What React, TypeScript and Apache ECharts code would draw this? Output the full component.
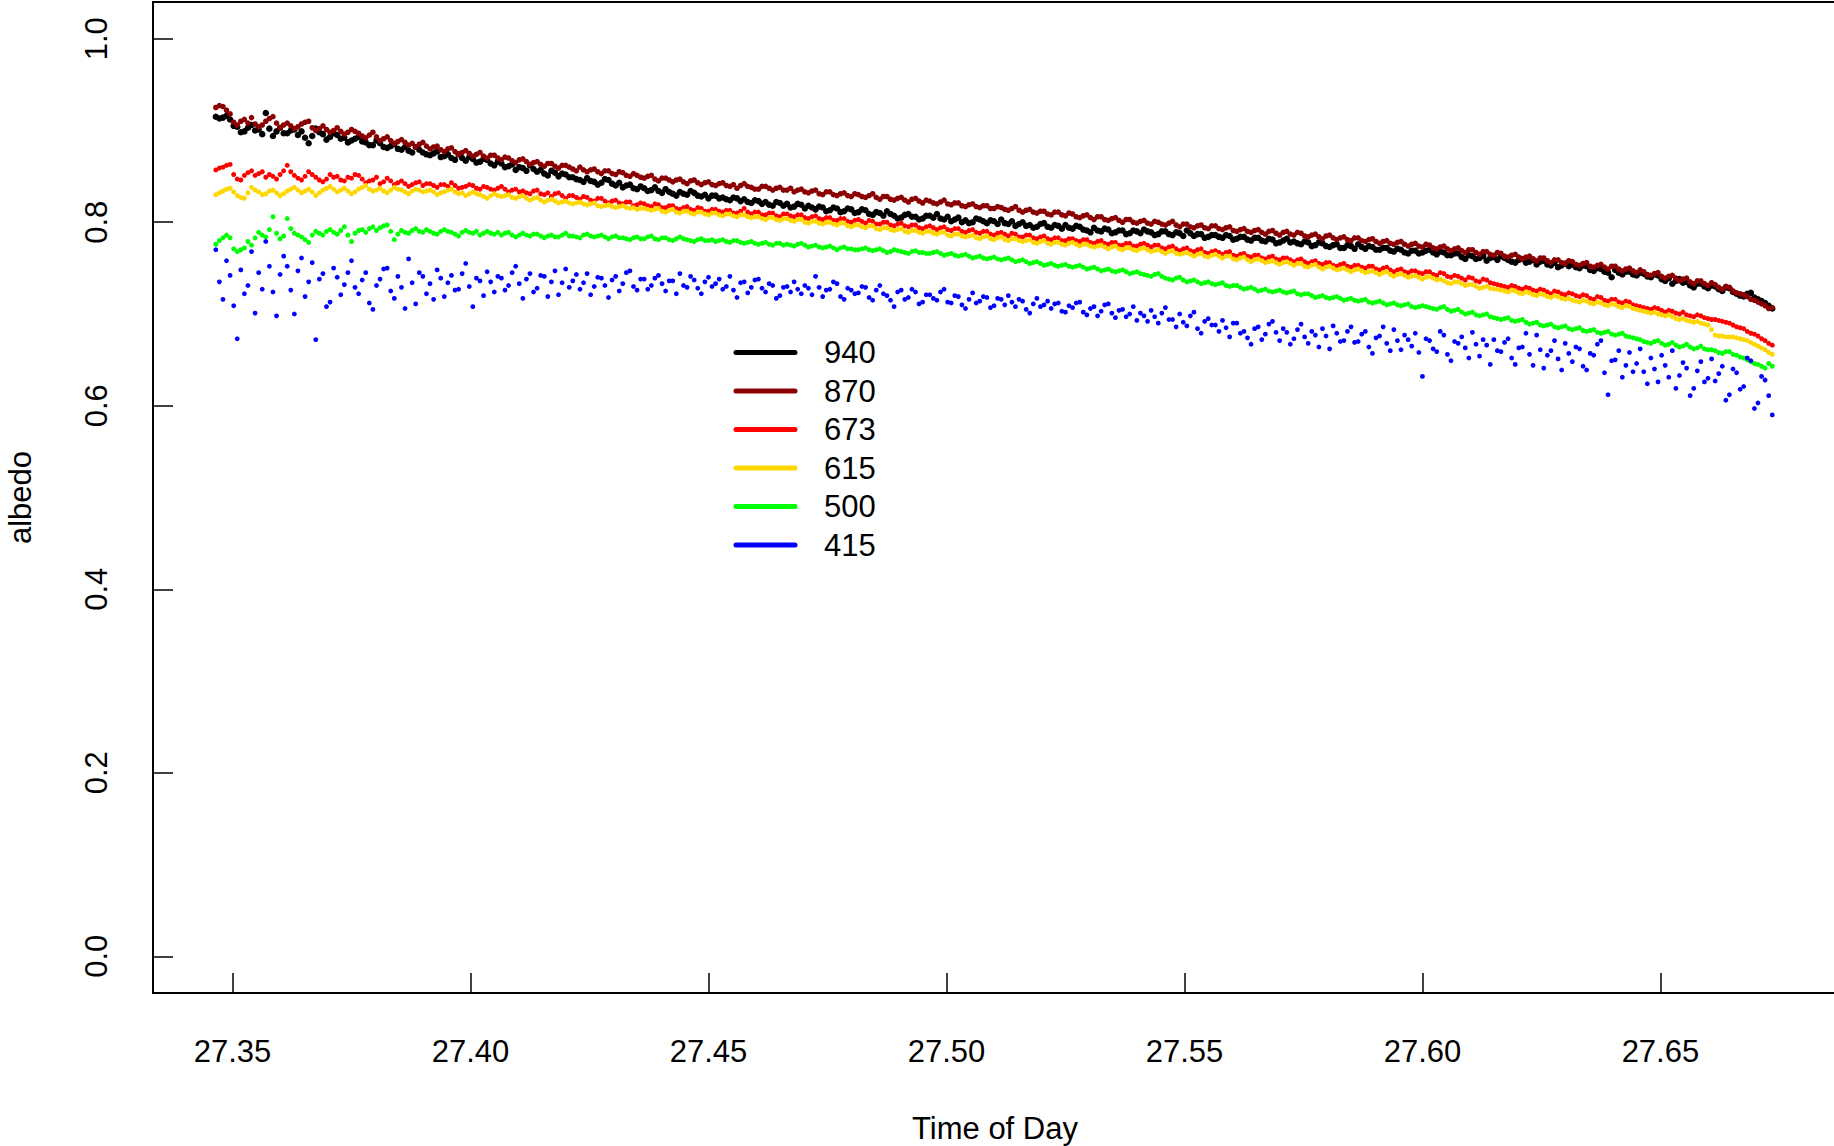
import React, { useEffect, useRef } from "react";
import * as echarts from "echarts";

// Radiometer samples: one reading every sampleStep days, starting at startTime
const startTime = 27.3465;
const sampleStep = 0.00075;

const bandNames = ["940", "870", "673", "615", "500", "415"];
const bandColors = ["#000000", "#8B0000", "#FF0000", "#FFD700", "#00FF00", "#0000FF"];
const bandDotSizes = [6.5, 5.6, 5, 5, 5, 4.8];

const xTicks = [27.35, 27.4, 27.45, 27.5, 27.55, 27.6, 27.65];
const yTicks = [0, 0.2, 0.4, 0.6, 0.8, 1.0];

// Albedo per band, in thousandths
const albedo940 = [
  915,913,914,916,912,905,904,898,899,903,906,900,901,896,919,902,894,899,903,897,
  897,900,901,895,899,892,886,894,902,898,896,890,893,897,895,891,892,887,889,891,
  893,888,887,884,884,889,886,882,881,883,885,880,879,882,878,876,882,879,876,874,
  873,875,877,871,872,874,870,868,874,870,867,871,869,865,866,869,868,864,862,866,
  864,860,861,863,857,860,859,856,862,858,855,857,853,851,856,854,850,853,852,849,
  849,847,846,844,848,845,844,841,843,847,846,842,840,843,838,840,841,837,836,839,
  837,834,835,838,834,832,836,833,831,829,833,831,830,834,832,829,828,830,826,829,
  829,826,827,825,824,827,826,823,825,822,821,824,823,820,822,819,818,822,821,818,
  820,816,817,820,819,815,818,816,814,817,816,812,813,816,815,811,812,815,814,810,
  811,814,813,809,808,811,810,807,812,809,807,804,805,808,809,806,806,803,804,807,
  807,805,809,804,803,806,801,803,805,800,802,799,800,804,803,801,799,802,801,798,
  803,799,798,801,796,798,800,796,797,794,795,798,799,795,794,797,796,793,797,794,
  793,796,795,792,791,789,794,791,790,793,792,788,789,791,791,787,788,791,790,788,
  792,790,789,786,787,790,790,787,786,789,788,785,791,788,785,787,787,783,784,786,
  786,784,783,786,785,781,782,784,784,781,780,783,783,780,779,782,781,777,778,780,
  782,778,779,777,776,779,778,774,775,778,777,774,773,775,776,772,772,775,774,771,
  776,773,771,774,773,770,770,772,772,769,768,771,770,767,766,769,769,766,767,769,
  770,767,765,768,767,764,764,766,766,762,760,764,763,760,761,763,758,761,762,759,
  763,761,759,757,756,759,760,756,757,759,754,757,758,754,753,756,751,753,755,752,
  754,751,750,753,752,748,747,750,749,746,745,740,748,745,743,746,746,743,742,745,
  744,741,740,743,742,738,736,739,733,736,738,734,735,731,729,733,733,730,728,731,
  730,727,725,729,728,724,722,720,719,722,723,718,716,714,712,709,706,
];

const albedo870 = [
  925,927,926,922,918,909,906,910,912,908,914,907,904,906,910,913,915,908,903,906,
  908,905,902,904,907,909,910,903,900,902,905,901,898,900,903,899,896,898,901,899,
  897,894,892,895,898,893,889,891,893,889,886,888,890,887,884,886,882,885,887,883,
  880,882,883,879,877,880,881,877,874,876,878,875,872,874,876,872,870,873,873,870,
  868,871,870,867,865,868,869,866,863,865,866,863,861,864,864,861,859,862,862,860,
  858,856,860,857,855,857,858,855,853,856,856,853,852,855,854,851,850,853,851,849,
  848,850,851,847,845,848,848,846,844,846,847,844,842,845,846,843,841,843,844,841,
  840,842,843,840,839,841,837,840,842,839,838,836,836,839,839,837,835,837,838,835,
  835,837,833,835,836,833,832,834,835,831,830,833,833,830,829,831,832,829,828,831,
  830,828,827,829,831,827,825,828,828,825,824,826,827,824,822,825,826,823,821,824,
  823,821,820,822,824,820,819,821,821,818,817,819,820,817,816,818,818,815,815,817,
  816,814,813,815,817,813,811,813,814,811,810,812,812,809,808,811,811,808,807,810,
  809,806,805,807,808,805,803,806,806,803,802,804,805,802,800,803,803,800,799,801,
  802,799,798,801,800,798,797,799,801,797,795,798,798,795,794,796,797,794,793,796,
  796,793,792,794,795,791,790,792,793,790,789,791,792,789,787,790,791,788,786,789,
  790,787,786,789,788,785,784,786,787,784,782,785,786,783,781,783,784,781,780,783,
  783,780,779,781,782,779,777,779,780,777,776,778,779,776,774,776,777,774,773,776,
  775,772,771,773,774,771,769,771,772,769,767,770,770,767,765,768,768,765,764,767,
  766,763,762,764,765,762,760,762,763,760,758,761,761,758,756,759,759,756,755,758,
  757,754,753,755,756,752,751,753,754,751,749,752,752,749,747,749,750,747,745,748,
  746,743,742,744,745,741,739,741,742,739,736,738,739,735,733,736,736,733,731,734,
  732,729,727,730,729,725,723,722,721,719,716,715,713,711,709,706,707,
];

const albedo673 = [
  857,859,860,862,863,852,847,846,851,854,856,851,853,855,849,852,850,847,852,856,
  862,855,851,848,846,850,855,852,849,846,844,847,852,849,850,846,845,849,848,852,
  851,847,843,845,846,849,842,844,848,845,841,843,845,842,839,841,843,844,840,842,
  842,840,838,841,841,839,843,840,837,838,839,841,840,837,836,839,838,836,835,837,
  839,836,833,835,836,833,834,832,831,834,835,831,830,832,828,831,832,829,826,829,
  829,827,825,828,827,824,823,826,826,823,821,823,824,821,820,822,822,818,819,821,
  820,818,817,820,819,816,816,818,818,815,814,816,817,814,813,816,815,812,812,814,
  814,812,811,813,813,810,810,812,815,811,809,811,811,808,808,810,810,807,806,809,
  809,807,806,808,808,805,804,806,807,804,803,805,805,802,802,804,804,801,800,802,
  803,801,799,802,801,798,798,800,800,797,796,798,799,796,795,797,797,794,793,795,
  796,794,792,794,795,792,791,793,793,790,789,791,792,789,788,790,790,787,786,788,
  789,787,785,788,787,784,784,786,786,783,782,784,785,782,781,783,783,780,780,782,
  782,780,779,781,781,778,777,779,780,777,776,778,778,775,775,777,777,774,774,776,
  777,775,773,775,775,772,771,773,774,771,769,771,772,769,768,770,771,767,766,768,
  769,767,765,767,768,764,763,765,766,763,762,764,764,761,760,762,763,760,759,761,
  761,759,757,759,760,757,755,757,758,755,754,756,756,753,752,754,755,752,751,753,
  753,751,750,752,752,749,748,750,751,748,746,748,749,746,745,747,747,745,744,746,
  746,743,742,745,744,741,740,742,741,739,737,740,739,736,735,738,737,734,733,732,
  731,730,729,731,730,728,727,729,728,726,725,727,726,724,722,725,724,722,721,723,
  722,720,719,721,720,717,716,719,718,715,714,716,716,713,712,714,713,710,709,708,
  707,706,705,707,706,704,702,704,703,701,700,702,699,698,697,699,698,696,695,694,
  694,693,692,691,690,688,686,685,684,681,679,678,676,673,671,668,666,
];

const albedo615 = [
  830,832,834,836,837,833,829,827,826,832,838,835,833,830,831,834,835,832,829,831,
  834,836,838,835,832,834,836,833,829,832,835,837,839,836,833,835,837,834,831,833,
  836,838,840,836,834,835,837,834,832,835,838,836,835,833,831,834,836,835,833,834,
  835,833,830,832,833,835,836,833,831,832,829,831,833,831,830,828,826,829,831,829,
  828,829,830,827,826,828,829,826,824,826,827,824,822,824,825,823,821,822,823,821,
  820,821,822,820,819,820,821,818,817,818,819,817,816,817,818,816,815,816,814,815,
  815,814,813,814,815,812,811,813,814,811,810,812,812,810,809,811,811,809,808,810,
  810,808,807,809,809,807,806,808,808,806,805,806,806,804,803,805,805,803,802,804,
  804,802,801,803,803,800,799,801,801,799,798,800,800,798,797,799,799,796,795,797,
  797,795,794,796,796,793,792,794,794,792,791,792,793,790,789,791,791,789,788,790,
  790,788,787,789,789,786,785,787,787,785,784,785,786,783,782,784,785,782,781,783,
  784,781,780,782,782,780,779,780,781,778,777,779,780,777,776,778,778,776,775,777,
  778,776,774,776,776,774,773,774,775,773,771,773,774,771,770,772,772,770,769,771,
  772,770,768,769,770,768,766,768,769,766,765,766,767,765,763,765,766,763,762,764,
  765,763,761,763,763,760,759,761,762,759,757,759,760,758,756,757,758,756,754,756,
  757,755,753,755,755,752,751,753,754,751,749,751,752,750,748,749,750,748,746,748,
  749,747,745,746,747,745,743,745,746,743,741,743,744,742,740,741,742,740,738,740,
  741,739,737,738,736,734,733,735,735,733,731,732,732,730,728,729,730,728,727,727,
  726,725,724,726,725,723,722,724,723,721,720,722,721,719,718,720,719,717,716,717,
  715,714,713,715,714,712,711,713,712,710,709,711,710,708,707,709,708,706,705,704,
  703,702,701,702,700,699,698,699,697,695,694,695,693,692,691,692,690,689,688,683,
  677,676,676,675,675,675,674,673,672,671,669,667,665,663,661,658,656,
];

const albedo500 = [
  776,780,783,786,783,771,768,770,772,779,775,783,789,786,784,792,806,788,782,785,
  804,793,788,786,784,781,778,786,790,788,786,790,792,789,787,791,795,786,779,788,
  791,792,789,793,795,791,794,796,797,790,781,787,791,789,788,791,793,790,789,792,
  790,788,787,790,792,790,789,787,785,789,791,789,788,790,786,788,790,788,787,789,
  786,788,789,786,784,786,788,786,785,787,787,785,783,785,786,784,784,786,788,785,
  785,784,783,786,787,785,784,785,786,784,782,784,785,783,783,782,781,783,784,782,
  782,784,785,782,781,783,783,781,780,782,784,782,781,780,779,781,782,780,780,781,
  779,780,781,779,778,780,780,778,777,778,779,777,776,777,778,776,775,777,777,775,
  776,775,774,776,777,775,773,774,775,773,772,773,774,772,770,772,773,771,771,770,
  770,771,772,770,769,770,771,769,767,768,770,769,768,767,766,768,769,767,767,766,
  766,767,768,766,764,765,766,764,763,764,765,763,761,762,763,761,760,761,762,760,
  759,760,761,759,757,758,759,757,755,756,757,755,753,754,755,753,752,753,754,752,
  751,752,753,751,749,750,751,749,747,748,749,747,746,747,748,746,744,745,746,744,
  743,742,741,743,744,741,739,738,737,739,740,737,735,736,737,735,733,734,735,733,
  732,733,734,731,730,731,731,729,727,728,729,727,725,726,727,725,724,725,726,724,
  723,724,725,722,721,722,722,720,718,719,720,718,717,718,719,717,715,716,717,715,
  714,715,716,713,712,713,714,712,710,711,712,710,709,710,711,708,707,708,709,708,
  707,706,705,707,708,705,703,704,705,702,700,701,702,699,698,699,700,697,696,695,
  694,695,696,693,692,693,694,691,689,690,691,688,687,688,689,686,685,686,687,684,
  683,684,685,682,681,682,683,680,679,680,681,678,677,678,679,676,675,674,673,672,
  670,669,668,670,671,668,666,667,669,666,664,665,667,664,662,663,665,662,661,661,
  660,658,657,659,659,656,655,653,652,650,648,646,645,643,641,646,643,
];

const albedo415 = [
  770,735,716,758,742,709,673,748,722,731,768,701,745,727,779,752,724,698,743,763,
  752,726,700,747,761,719,735,756,672,738,744,708,713,750,740,721,732,745,758,729,
  722,737,745,712,705,731,738,749,750,725,717,741,729,706,760,734,711,745,741,722,
  733,716,748,739,719,734,742,726,727,744,755,730,708,739,736,720,746,735,724,741,
  739,726,731,745,752,733,717,738,744,724,728,742,741,719,735,747,721,734,749,729,
  736,743,727,734,744,721,730,740,739,731,718,737,741,725,733,745,747,730,726,738,
  738,727,731,739,742,733,725,736,736,722,744,731,729,741,737,728,722,735,740,730,
  733,738,727,730,741,726,718,734,735,723,729,737,738,728,724,733,731,717,720,729,
  730,724,735,727,722,731,728,721,741,729,719,726,727,735,733,719,716,728,726,722,
  723,730,729,718,715,726,731,722,720,715,708,724,726,716,718,727,724,711,713,721,
  721,717,715,724,727,713,712,720,719,710,706,716,723,712,714,719,718,707,709,717,
  716,710,720,713,708,716,714,705,701,711,717,708,710,714,706,711,712,703,702,709,
  707,712,713,702,699,706,708,698,703,710,711,701,696,704,705,697,700,708,693,701,
  698,692,704,697,690,701,707,694,694,686,700,691,687,698,702,684,679,692,695,688,
  688,681,693,685,675,690,690,679,681,674,667,684,686,672,678,689,692,680,671,684,
  680,667,673,683,689,675,668,681,677,664,684,676,662,687,679,670,671,681,686,669,
  670,678,681,664,657,674,676,686,668,660,683,671,661,677,672,665,679,658,632,673,
  671,662,659,681,677,656,649,670,668,675,663,652,680,667,654,672,666,645,672,660,
  659,669,673,652,645,663,664,679,656,644,677,661,641,655,660,671,651,639,668,657,
  648,664,662,643,639,657,655,667,671,636,612,649,650,660,631,644,658,637,646,662,
  637,624,652,640,626,655,644,631,660,619,633,647,641,611,619,638,648,626,630,651,
  627,635,643,606,612,640,636,618,621,652,649,597,603,632,628,611,590,
];

const bandValues = [albedo940, albedo870, albedo673, albedo615, albedo500, albedo415];

const FONT = "'Liberation Sans', Arial, Helvetica, sans-serif";

export default function App() {
  const ref = useRef<HTMLDivElement>(null);

  useEffect(() => {
    if (!ref.current) return;
    const chart = echarts.init(ref.current, undefined, { renderer: "svg" });

    const series = bandNames.map((name, k) => ({
      name,
      type: "scatter",
      symbol: "circle",
      symbolSize: bandDotSizes[k],
      itemStyle: { color: bandColors[k], opacity: 1 },
      silent: true,
      emphasis: { disabled: true },
      data: bandValues[k].map((v, i) => [startTime + i * sampleStep, v / 1000]),
    }));

    const legendTop = 352.5;
    const legendStep = 38.5;
    const legendItems: any[] = [];
    bandNames.forEach((name, k) => {
      const y = legendTop + k * legendStep;
      legendItems.push({
        type: "line",
        shape: { x1: 736, y1: y, x2: 795, y2: y },
        style: { stroke: bandColors[k], lineWidth: 5, lineCap: "round" },
        silent: true,
      });
      legendItems.push({
        type: "text",
        x: 824,
        y,
        style: {
          text: name,
          fill: "#000",
          font: `31px ${FONT}`,
          textAlign: "left",
          textVerticalAlign: "middle",
        },
        silent: true,
      });
    });

    chart.setOption({
      animation: false,
      backgroundColor: "#ffffff",
      grid: {
        left: 153,
        top: 2,
        right: -3,
        bottom: 153,
        show: true,
        borderColor: "#000",
        borderWidth: 2,
        backgroundColor: "transparent",
        containLabel: false,
        outerBoundsMode: "none",
      },
      xAxis: {
        type: "value",
        min: 27.3333,
        max: 27.6871,
        name: "Time of Day",
        nameLocation: "middle",
        nameGap: 120,
        nameMoveOverlap: false,
        nameTextStyle: { fontSize: 31, fontFamily: FONT, color: "#000" },
        axisLine: { show: false, onZero: false },
        axisTick: {
          show: true,
          inside: true,
          length: 20,
          customValues: xTicks,
          lineStyle: { color: "#000", width: 1.5 },
        },
        axisLabel: {
          show: true,
          customValues: xTicks,
          formatter: (v: number) => v.toFixed(2),
          fontSize: 31,
          fontFamily: FONT,
          color: "#000",
          margin: 43,
        },
        splitLine: { show: false },
      },
      yAxis: {
        type: "value",
        min: -0.04,
        max: 1.04,
        name: "albedo",
        nameLocation: "middle",
        nameGap: 117,
        nameMoveOverlap: false,
        nameTextStyle: { fontSize: 31, fontFamily: FONT, color: "#000" },
        axisLine: { show: false, onZero: false },
        axisTick: {
          show: true,
          inside: true,
          length: 20,
          customValues: yTicks,
          lineStyle: { color: "#000", width: 1.5 },
        },
        axisLabel: {
          show: true,
          customValues: yTicks,
          formatter: (v: number) => v.toFixed(1),
          rotate: 90,
          fontSize: 31,
          fontFamily: FONT,
          color: "#000",
          margin: 41,
        },
        splitLine: { show: false },
      },
      graphic: legendItems,
      series,
    });

    return () => chart.dispose();
  }, []);

  return (
    <div
      ref={ref}
      style={{ position: "fixed", left: 0, top: 0, width: 1834, height: 1146, background: "#fff" }}
    />
  );
}
